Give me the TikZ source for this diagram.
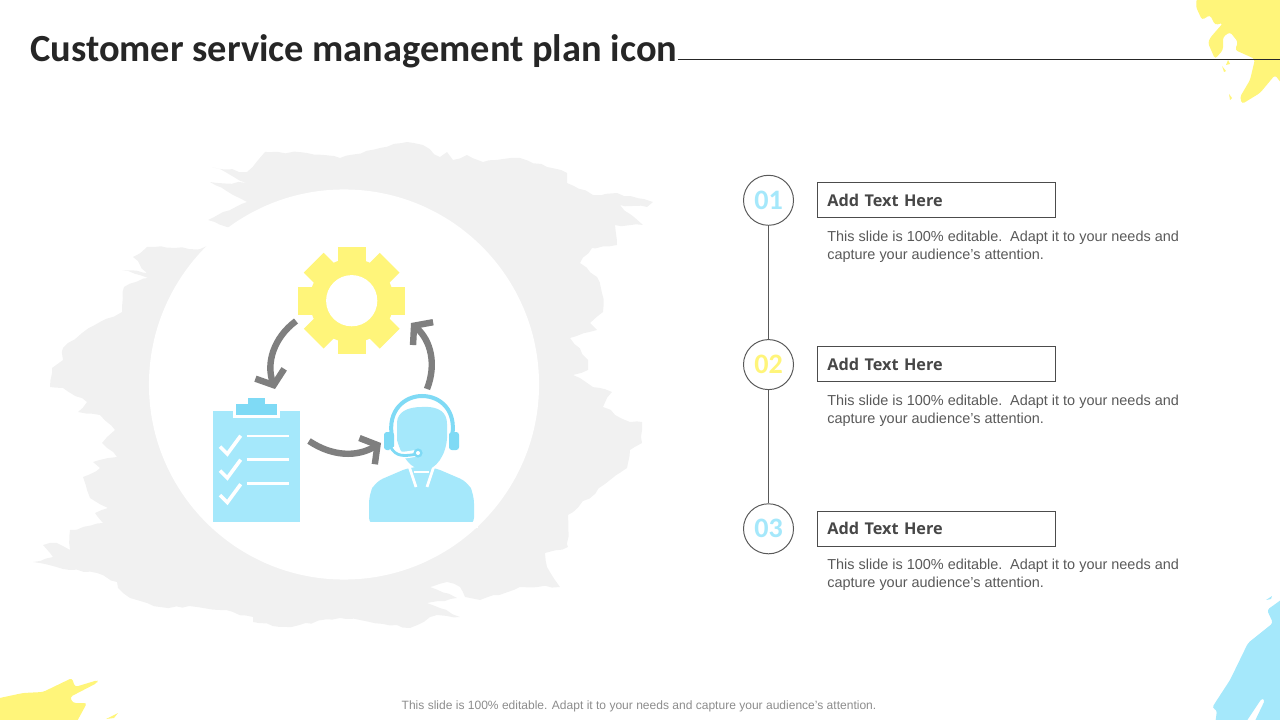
\documentclass[tikz,border=0pt]{standalone}
\usepackage{fontspec}
\setmainfont{Liberation Sans}
\newfontfamily\titlefont{Carlito}
\newfontfamily\headfont{Open Sans}
\newfontfamily\numfont{Carlito}
\usetikzlibrary{arrows.meta,decorations.pathmorphing}
\definecolor{iconblue}{HTML}{A5E8FB}
\definecolor{darkblue}{HTML}{7FDAF5}
\definecolor{brushyellow}{HTML}{FFF57A}
\definecolor{brushgray}{HTML}{F1F1F1}
\definecolor{arrowgray}{HTML}{7F7F7F}
\definecolor{bodygray}{HTML}{595959}
\begin{document}
\begin{tikzpicture}[x=0.025cm,y=-0.025cm,
    numcirc/.style={circle, draw=bodygray, fill=white, line width=0.7pt, minimum size=1.25cm, inner sep=0pt},
    headbox/.style={draw=bodygray!85!black, fill=white, line width=0.7pt, minimum width=5.95cm, minimum height=0.875cm, text width=5.45cm, inner sep=0pt, align=left, text=bodygray!80!black, font=\headfont\bfseries\fontsize{11.55}{14}\selectfont},
    bodytxt/.style={anchor=north west, inner sep=0pt, align=left, text=bodygray, font=\fontsize{10.28}{12.8}\selectfont},
    flowarrow/.style={draw=arrowgray, line width=0.16cm, -{Straight Barb[length=0.3cm,width=0.76cm,line width=0.16cm]}},
    whiteline/.style={draw=white, line width=0.07cm},
    rough/.style={decorate, decoration={random steps, segment length=5pt, amplitude=0.9pt}}]
  \useasboundingbox (0,0) rectangle (1280,720);
  % brush strokes
  \pgfmathsetseed{7}
  \fill[brushgray, rough] (50,387) -- (52,368) -- (63,360) -- (63,348) -- (82,333) -- (100,322) -- (122,312) -- (124,287) -- (148,278) -- (122,270) -- (147,273) -- (133,257) -- (147,247) -- (200,249) -- (260,235) -- (227,227) -- (208,220) -- (223,212) -- (247,202) -- (233,195) -- (210,182) -- (247,183) -- (227,173) -- (212,167) -- (247,172) -- (265,152) -- (307,153) -- (340,158) -- (380,148) -- (407,142) -- (423,145) -- (440,157) -- (447,152) -- (453,160) -- (467,155) -- (483,162) -- (520,158) -- (547,167) -- (567,173) -- (567,183) -- (593,195) -- (617,193) -- (653,202) -- (647,207) -- (620,205) -- (643,225) -- (615,225) -- (617,245) -- (592,248) -- (580,263) -- (597,277) -- (602,293) -- (603,312) -- (590,323) -- (597,330) -- (570,338) -- (588,360) -- (588,370) -- (573,375) -- (593,387) -- (578,382) -- (612,392) -- (603,407) -- (630,422) -- (642,422) -- (642,443) -- (630,450) -- (627,468) -- (610,480) -- (568,515) -- (568,547) -- (545,553) -- (547,567) -- (560,587) -- (520,587) -- (480,600) -- (465,597) -- (460,587) -- (447,582) -- (430,587) -- (457,598) -- (427,603) -- (460,617) -- (437,615) -- (410,628) -- (360,620) -- (340,618) -- (287,627) -- (253,622) -- (253,617) -- (220,610) -- (197,607) -- (160,607) -- (130,598) -- (118,588) -- (117,582) -- (97,573) -- (70,570) -- (33,562) -- (53,557) -- (43,545) -- (57,543) -- (70,550) -- (70,530) -- (103,523) -- (95,513) -- (108,508) -- (90,498) -- (83,477) -- (100,468) -- (93,462) -- (117,457) -- (102,443) -- (115,430) -- (100,415) -- (78,412) -- (87,402) -- (63,388) -- cycle;
  \node[circle, fill=white, minimum size=9.75cm, inner sep=0pt] (disc) at (344,384.5) {};
  \fill[brushyellow, rounded corners=2pt] (1197,-5) -- (1196,7) -- (1202,20) -- (1210,15) -- (1215,25) -- (1223,23) -- (1210,38) -- (1208,43) -- (1215,59) -- (1223,50) -- (1223,37) -- (1230,32) -- (1238,42) -- (1235,50) -- (1255,59) -- (1250,80) -- (1240,97) -- (1242,104) -- (1260,93) -- (1275,75) -- (1285,88) -- (1285,-5) -- cycle;
  \fill[brushyellow] (1228,60) -- (1230,64) -- (1226,65) -- cycle (1222,66) -- (1226,71) -- (1224,72) -- cycle (1229,94) -- (1232,98) -- (1230,100) -- cycle;
  \fill[iconblue, rounded corners=2pt] (1285,597) -- (1267,610) -- (1273,623) -- (1248,643) -- (1230,680) -- (1215,703) -- (1212,708) -- (1217,710) -- (1215,725) -- (1244,725) -- (1262,698) -- (1265,700) -- (1253,725) -- (1285,725) -- cycle;
  \fill[iconblue] (1266,600) -- (1272,596) -- (1271,599) -- cycle;
  \fill[brushyellow, rounded corners=2pt] (-5,699) -- (23,693) -- (43,692) -- (72,678) -- (75,687) -- (98,680) -- (97,683) -- (70,697) -- (73,703) -- (87,703) -- (75,725) -- (-5,725) -- cycle;
  \fill[brushyellow] (106,719) -- (118,713) -- (114,718) -- cycle;
  % title and rule
  \node[anchor=west, inner sep=0pt, text=black!85] (title) at (30,51.5) {\titlefont\bfseries\fontsize{27.3}{32}\selectfont Customer service management plan icon};
  \coordinate (ruleend) at (1280,59);
  \draw[line width=0.7pt, black!85] (title.east |- ruleend) -- (ruleend);
  % gear
  \node[circle, fill=brushyellow, minimum size=2.1cm, inner sep=0pt] (gear) at (351.7,300.7) {};
  \foreach \a in {0,45,...,315}
    \fill[brushyellow, rotate around={\a:(gear.center)}] (337.7,247) rectangle (365.7,270);
  \node[circle, fill=white, minimum size=1.28cm, inner sep=0pt] (hole) at (gear.center) {};
  % clipboard
  \node[rectangle, fill=iconblue, minimum width=2.175cm, minimum height=2.77cm, inner sep=0pt] (clipboard) at (256.5,466.5) {};
  \fill[white] (233,411) rectangle (280,418);
  \fill[darkblue] (236,404) rectangle (277,415);
  \fill[darkblue] (248,398) rectangle (265,405);
  \foreach \y in {436,459.7,483.3}
    \draw[whiteline] (246.7,\y) -- (288.7,\y);
  \foreach \y in {0,24,48.5}
    \draw[whiteline, line width=0.09cm] (220,446.7+\y) -- (227.3,454+\y) -- (240.7,435.7+\y);
  % agent
  \fill[iconblue, rounded corners=6pt] (369,526) -- (369,495) -- (375,482) -- (410,467) -- (433,467) -- (468,482) -- (474,495) -- (474,526) -- cycle;
  \fill[white] (365,522) rectangle (478,528);
  \draw[whiteline] (409,466) -- (416,487);
  \draw[whiteline] (434,466) -- (427,487);
  \draw[whiteline, line width=0.04cm] (414,472) -- (429,472);
  \fill[iconblue] (397,440) -- (397,422) .. controls (398,412) and (407,407) .. (422,407) .. controls (440,406) and (447,413) .. (447,424) -- (447,438) .. controls (446,455) and (436,470) .. (424,470) .. controls (412,470) and (402,458) .. (397,440) -- cycle;
  \draw[darkblue, line width=0.1cm] (392,437) .. controls (387,410) and (405,396) .. (422,396) .. controls (440,396) and (457,410) .. (452,437);
  \fill[darkblue, rounded corners=2pt] (384,432) rectangle (394,450);
  \fill[darkblue, rounded corners=2pt] (449,432) rectangle (459,450);
  \draw[white, line width=0.17cm] (392,448) .. controls (397,458) and (405,455) .. (418,453);
  \draw[darkblue, line width=0.07cm] (390,446) .. controls (396,458) and (405,456) .. (418,454);
  \fill[darkblue] (418,453) circle[radius=4.6];
  \fill[white] (418,453) circle[radius=2];
  % arrows between icons
  \coordinate (gearout) at (296,321);
  \coordinate (clipin) at (275,389);
  \coordinate (clipout) at (309,441);
  \coordinate (agentin) at (381,443);
  \coordinate (agentout) at (427,389);
  \coordinate (gearin) at (411,323);
  \draw[flowarrow] (gearout) to[bend right=36] (clipin);
  \draw[flowarrow] (clipout) to[bend right=32] (agentin);
  \draw[flowarrow] (agentout) to[bend right=35] (gearin);
  % steps on the right
  \foreach \n/\y/\col in {1/200/iconblue,2/364.3/brushyellow,3/528.5/iconblue} {
    \node[numcirc] (circ\n) at (768.5,\y+0.3) {\numfont\bfseries\fontsize{20}{24}\selectfont\textcolor{\col}{0\n}};
    \node[headbox] (box\n) at (936.5,\y) {Add Text Here};
    \node[bodytxt] (txt\n) at (827,\y+30.6) {This slide is 100\% editable.\, Adapt it to your needs and\\capture your audience's attention.};
  }
  \draw[line width=0.7pt, bodygray] (circ1) -- (circ2);
  \draw[line width=0.7pt, bodygray] (circ2) -- (circ3);
  % footer
  \node[inner sep=0pt, text=black!45] (footer) at (639,706.3) {\fontsize{8.56}{10}\selectfont This slide is 100\% editable. Adapt it to your needs and capture your audience's attention.};
\end{tikzpicture}
\end{document}
